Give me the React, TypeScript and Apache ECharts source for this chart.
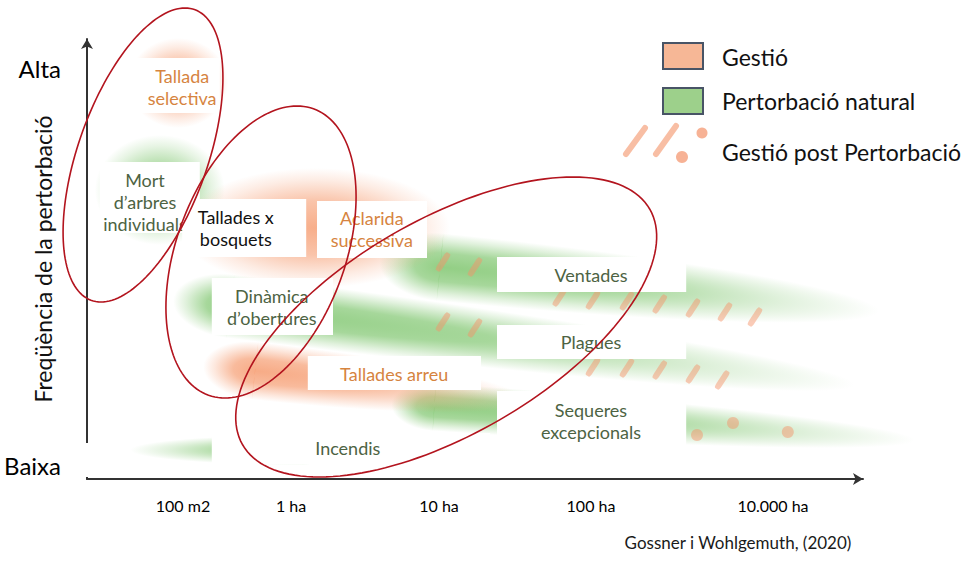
import React, { useEffect, useRef } from "react";
import * as echarts from "echarts";

// Conceptual plane: x = spatial extent of the disturbance (0–97), y = frequency (0–110)
const scaleTickValues = [12, 25.5, 44, 63, 85.75];
const scaleTickLabels = ["100 m2", "1 ha", "10 ha", "100 ha", "10.000 ha"];
const freqTickValues = [102.75, 3.5];
const freqTickLabels = ["Alta", "Baixa"];

// Gestió (management) regimes: blobs [cx, cy, width, height], streaks [headX, headY, tailX, tailY, thickness]
const gestioBlobs = [
  [11.4, 99, 12.5, 22.5],
  [28.5, 62.75, 33.75, 30],
];
const gestioStreaks = [[14.5, 28.5, 55, 19.5, 14.5]];

// Pertorbació natural regimes
const naturalBlobs = [[9.1, 72.25, 16.25, 27.5]];
const naturalStreaks = [
  [36.5, 54.5, 99, 42, 17],
  [10.75, 45, 96, 23.5, 16],
  [38, 18.75, 103.5, 9.75, 12],
  [30.4, 7.25, 5.4, 7.25, 7.5],
];

// Gestió post pertorbació marks
const postDashes = [
  [44.5, 54.25], [48.5, 53], [59.1, 45.5], [63.25, 44.75], [67.5, 44.5],
  [71.6, 43.75], [75.75, 42.75], [79.75, 41.75], [83.5, 40.5],
  [44.5, 39.25], [48.5, 37.75], [63.25, 28], [67.5, 27.75], [71.6, 27.25],
  [75.75, 26.25], [79.4, 24.75],
];
const postDots = [[76.25, 11], [80.75, 14], [87.6, 11.75]];

// Red grouping ellipses: [cx, cy, topX, topY, horizontal half-width through centre]
const zoneEllipses = [
  [7, 81, 12.25, 117.75, 8.5],
  [21.75, 56.75, 26.25, 93.25, 11],
  [44.9, 38, 60.75, 75.5, 21],
];

// Labelled regimes
const labelNames = [
  "Tallada\nselectiva",
  "Mort\nd\u2019arbres\nindividuals",
  "Tallades x\nbosquets",
  "Aclarida\nsuccessiva",
  "Din\u00e0mica\nd\u2019obertures",
  "Tallades arreu",
  "Incendis",
  "Ventades",
  "Plagues",
  "Sequeres\nexcepcionals",
];
const labelKinds = ["gestio", "natural", "mixed", "gestio", "natural", "gestio", "natural", "natural", "natural", "natural"];
// [x0, yTop, x1, yBottom]
const labelBoxes = [
  [5.1, 105.25, 16.6, 91.5],
  [1.6, 79.25, 14.1, 61.5],
  [11.9, 70, 27.4, 55.5],
  [28.75, 69.5, 42.5, 55.25],
  [15.6, 50.25, 30.75, 36],
  [27.6, 30.75, 49.25, 22.25],
  [15.6, 11.5, 50.4, 3.75],
  [51.25, 55.5, 74.9, 46.75],
  [51.25, 38.5, 74.9, 30],
  [51.25, 22, 74.9, 8],
];
// text anchor [x, y]
const labelAnchors = [
  [11.9, 98],
  [7.25, 69.25],
  [18.6, 62.75],
  [35.6, 62.4],
  [23.1, 43.1],
  [38.4, 26.25],
  [32.6, 7.75],
  [63, 51],
  [63, 34.25],
  [63, 14.6],
];

const FONT = 'Lato, "Noto Sans", sans-serif';
const ORANGE = [246, 160, 118];
const GREEN = [132, 200, 116];
const DASH = [244, 146, 104];
const KIND_COLORS: Record<string, string> = {
  gestio: "#d6843f",
  natural: "#4d6343",
  mixed: "#111111",
};

const rgba = (c: number[], a: number) => `rgba(${c[0]},${c[1]},${c[2]},${a})`;

const softFill = (c: number[], cx: number, stops: number[][]) => ({
  type: "radial",
  x: cx,
  y: 0.5,
  r: 0.5,
  colorStops: stops.map(([o, a]) => ({ offset: o, color: rgba(c, a) })),
});

const BLOB_STOPS = [[0, 0.85], [0.45, 0.62], [0.8, 0.2], [1, 0]];
const STREAK_STOPS = [[0, 0.88], [0.42, 0.72], [0.78, 0.25], [1, 0]];

const blobRenderer = (c: number[]) => (_p: any, api: any) => {
  const ctr = api.coord([api.value(0), api.value(1)]);
  const s = api.size([api.value(2), api.value(3)]);
  return {
    type: "ellipse",
    silent: true,
    shape: { cx: ctr[0], cy: ctr[1], rx: s[0] / 2, ry: s[1] / 2 },
    style: { fill: softFill(c, 0.5, BLOB_STOPS) },
  };
};

// comet-like band: blunt soft head at (x0,y0), long tapering tail ending at (x1,y1)
const streakRenderer = (c: number[]) => (_p: any, api: any) => {
  const p0 = api.coord([api.value(0), api.value(1)]);
  const p1 = api.coord([api.value(2), api.value(3)]);
  const T = Math.abs(api.size([0, api.value(4)])[1]);
  const dx = p1[0] - p0[0];
  const dy = p1[1] - p0[1];
  const L = Math.hypot(dx, dy);
  const ang = Math.atan2(dy, dx);
  const al = Math.min(0.9 * T, L * 0.3);
  const ar = L - al;
  const cx = p0[0] + (dx / L) * al;
  const cy = p0[1] + (dy / L) * al;
  return {
    type: "group",
    silent: true,
    x: cx,
    y: cy,
    rotation: -ang,
    children: [
      {
        type: "rect",
        shape: { x: -2 * al + 0.4, y: -T / 2, width: 2 * al, height: T },
        style: { fill: softFill(c, 1, STREAK_STOPS) },
      },
      {
        type: "rect",
        shape: { x: 0, y: -T / 2, width: 2 * ar, height: T },
        style: { fill: softFill(c, 0, STREAK_STOPS) },
      },
    ],
  };
};

const ellipseRenderer = (_p: any, api: any) => {
  const c = api.coord([api.value(0), api.value(1)]);
  const t = api.coord([api.value(2), api.value(3)]);
  const w = Math.abs(api.size([api.value(4), 0])[0]);
  const P = [t[0] - c[0], t[1] - c[1]];
  const pts: number[][] = [];
  const n = 160;
  for (let i = 0; i < n; i++) {
    const a = (i / n) * Math.PI * 2;
    pts.push([c[0] + P[0] * Math.cos(a) + w * Math.sin(a), c[1] + P[1] * Math.cos(a)]);
  }
  return {
    type: "polygon",
    silent: true,
    shape: { points: pts },
    style: { fill: "none", stroke: "#b3141e", lineWidth: 1.6 },
  };
};

const labelRenderer = (p: any, api: any) => {
  const i = p.dataIndex;
  const a = api.coord([api.value(0), api.value(1)]);
  const b = api.coord([api.value(2), api.value(3)]);
  const t = api.coord([api.value(4), api.value(5)]);
  return {
    type: "group",
    silent: true,
    children: [
      {
        type: "rect",
        shape: { x: a[0], y: a[1], width: b[0] - a[0], height: b[1] - a[1] },
        style: { fill: "#ffffff" },
      },
      {
        type: "text",
        style: {
          text: labelNames[i],
          x: t[0],
          y: t[1],
          align: "center",
          verticalAlign: "middle",
          fill: KIND_COLORS[labelKinds[i]],
          fontFamily: FONT,
          fontSize: 18,
          lineHeight: 22,
        },
      },
    ],
  };
};

const findLabel = (vals: number[], labels: string[]) => (v: number) => {
  const i = vals.findIndex((x) => Math.abs(x - v) < 1e-6);
  return i >= 0 ? labels[i] : "";
};

export default function App() {
  const ref = useRef<HTMLDivElement>(null);

  useEffect(() => {
    document.body.style.margin = "0";
    if (!ref.current) return;
    const chart = echarts.init(ref.current, null, { renderer: "svg" });

    const dashStyle = {
      color: rgba(DASH, 0.6),
    };
    const iconStroke = { stroke: rgba(DASH, 0.6), lineWidth: 6, lineCap: "round" };

    const option: any = {
      animation: false,
      backgroundColor: "#ffffff",
      textStyle: { fontFamily: FONT },
      grid: { left: 87, right: 106, top: 39, bottom: 94, containLabel: false, outerBoundsMode: "none" },
      xAxis: {
        type: "value",
        min: 0,
        max: 97,
        axisLine: {
          show: true,
          symbol: ["none", "arrow"],
          symbolSize: [9, 10],
          lineStyle: { color: "#333333", width: 2 },
        },
        axisTick: { show: false },
        splitLine: { show: false },
        axisLabel: {
          customValues: scaleTickValues,
          formatter: findLabel(scaleTickValues, scaleTickLabels),
          fontSize: 16,
          color: "#000000",
          margin: 18,
          fontFamily: FONT,
        },
      },
      yAxis: {
        type: "value",
        min: 0,
        max: 110,
        name: "Freq\u00fc\u00e8ncia de la pertorbaci\u00f3",
        nameLocation: "middle",
        nameRotate: 90,
        nameGap: 33,
        nameMoveOverlap: false,
        nameTextStyle: { fontSize: 23, color: "#111111", fontFamily: FONT },
        axisLine: {
          show: true,
          symbol: ["none", "arrow"],
          symbolSize: [9, 10],
          lineStyle: { color: "#333333", width: 2 },
        },
        axisTick: { show: false },
        splitLine: { show: false },
        axisLabel: {
          customValues: freqTickValues,
          formatter: findLabel(freqTickValues, freqTickLabels),
          fontSize: 24,
          color: "#000000",
          margin: 26,
          fontFamily: FONT,
        },
      },
      graphic: [
        // gap at the foot of the vertical axis
        { type: "rect", z: 100, shape: { x: 82, y: 443, width: 9, height: 34 }, style: { fill: "#ffffff" } },
        // legend
        { type: "rect", z: 100, shape: { x: 663, y: 43, width: 40, height: 26 }, style: { fill: "#f6b796", stroke: "#485466", lineWidth: 2 } },
        { type: "text", z: 100, style: { text: "Gesti\u00f3", x: 722, y: 57, verticalAlign: "middle", fill: "#111111", fontSize: 23, fontFamily: FONT } },
        { type: "rect", z: 100, shape: { x: 663, y: 88, width: 40, height: 26 }, style: { fill: "#9dd08b", stroke: "#485466", lineWidth: 2 } },
        { type: "text", z: 100, style: { text: "Pertorbaci\u00f3 natural", x: 722, y: 101, verticalAlign: "middle", fill: "#111111", fontSize: 23, fontFamily: FONT } },
        { type: "line", z: 100, shape: { x1: 626, y1: 154, x2: 645, y2: 128 }, style: iconStroke },
        { type: "line", z: 100, shape: { x1: 656, y1: 154, x2: 676, y2: 126 }, style: iconStroke },
        { type: "circle", z: 100, shape: { cx: 702, cy: 133, r: 5.5 }, style: { fill: rgba(DASH, 0.7) } },
        { type: "circle", z: 100, shape: { cx: 682, cy: 157, r: 6 }, style: { fill: rgba(DASH, 0.7) } },
        { type: "text", z: 100, style: { text: "Gesti\u00f3 post Pertorbaci\u00f3", x: 722, y: 152, verticalAlign: "middle", fill: "#111111", fontSize: 23, fontFamily: FONT } },
        // source
        { type: "text", z: 100, style: { text: "Gossner i Wohlgemuth, (2020)", x: 738, y: 542, align: "center", verticalAlign: "middle", fill: "#1a1a1a", fontSize: 17, fontFamily: FONT } },
      ],
      series: [
        { name: "Pertorbaci\u00f3 natural", type: "custom", z: 1, clip: false, renderItem: streakRenderer(GREEN), data: naturalStreaks },
        { name: "Pertorbaci\u00f3 natural (zones)", type: "custom", z: 1, clip: false, renderItem: blobRenderer(GREEN), data: naturalBlobs },
        { name: "Gesti\u00f3", type: "custom", z: 1, clip: false, renderItem: streakRenderer(ORANGE), data: gestioStreaks },
        { name: "Gesti\u00f3 (zones)", type: "custom", z: 1, clip: false, renderItem: blobRenderer(ORANGE), data: gestioBlobs },
        {
          name: "Gesti\u00f3 post Pertorbaci\u00f3",
          type: "scatter",
          z: 2,
          silent: true,
          symbol: "roundRect",
          symbolSize: [6, 21],
          symbolRotate: -33,
          itemStyle: dashStyle,
          data: postDashes,
        },
        {
          name: "Gesti\u00f3 post Pertorbaci\u00f3 (punts)",
          type: "scatter",
          z: 2,
          silent: true,
          symbol: "circle",
          symbolSize: 12,
          itemStyle: dashStyle,
          data: postDots,
        },
        {
          name: "R\u00e8gims",
          type: "custom",
          z: 3,
          clip: false,
          renderItem: labelRenderer,
          data: labelBoxes.map((b, i) => [...b, ...labelAnchors[i]]),
        },
        { name: "Agrupacions", type: "custom", z: 4, clip: false, renderItem: ellipseRenderer, data: zoneEllipses },
      ],
    };

    chart.setOption(option);
    return () => chart.dispose();
  }, []);

  return <div ref={ref} style={{ width: 969, height: 573 }} />;
}
